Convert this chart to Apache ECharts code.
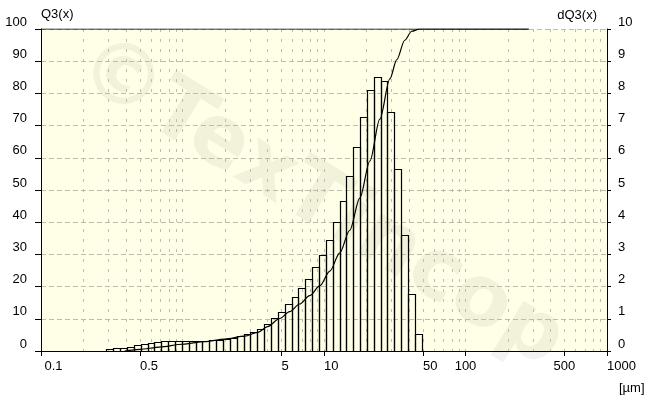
<!DOCTYPE html>
<html>
<head>
<meta charset="utf-8">
<script src="https://cdn.jsdelivr.net/npm/echarts@6.0.0/dist/echarts.min.js"></script>
<style>
html,body{margin:0;padding:0;background:#fff;}
#c{width:649px;height:401px;}
</style>
</head>
<body>
<div id="c"></div>
<script>
// ---- data ----
const binEdges = [0.290,0.324,0.363,0.406,0.453,0.507,0.567,0.634,0.708,0.792,0.885,0.990,1.11,1.24,1.38,1.55,1.73,1.93,2.16,2.42,2.70,3.02,3.38,3.78,4.22,4.72,5.28,5.90,6.59,7.37,8.24,9.21,10.3,11.5,12.9,14.4,16.1,18.0,20.1,22.5,25.1,28.1,31.4,35.1,39.3,43.9,49.1];
const dQ3 = [0.05,0.08,0.09,0.11,0.18,0.22,0.26,0.28,0.30,0.31,0.32,0.31,0.31,0.31,0.32,0.33,0.34,0.36,0.41,0.47,0.53,0.60,0.68,0.84,1.03,1.22,1.45,1.69,1.97,2.24,2.62,2.98,3.45,4.00,4.66,5.43,6.33,7.27,8.10,8.51,8.38,7.42,5.65,3.60,1.77,0.53];
const q3Size  = [0.39,0.50,0.69,1.00,1.43,1.99,2.75,3.40,4.00,4.86,5.72,6.73,7.92,9.33,11.0,12.9,15.2,17.9,21.1,24.8,29.2,32.7,37.2,41.7,47.5,280];
const q3Value = [0,0.5,1.2,2.1,2.9,3.7,4.6,5.8,7.6,10.1,12.2,14.6,17.2,20.2,24.8,30.4,37.5,47.5,59,72,84.5,90.5,96.5,99.3,100,100];
const rangeLimits = [0.1, 280];
const xLabelValues = [0.1,0.5,5,10,50,100,500,1000];
const xCenteredLabels = ['100','500'];
const xGridValues = [0.2,0.3,0.4,0.5,0.6,0.7,0.8,0.9,1,2,3,4,5,6,7,8,9,10,20,30,40,50,60,70,80,90,100,200,300,400,500,600,700,800,900];
const leftTitle = 'Q3(x)';
const rightTitle = 'dQ3(x)';
const xUnit = '[µm]';
const watermark = '©TexTincop';

// ---- chart ----
const FONT = '"Liberation Sans Narrow","Arial Narrow","Liberation Sans",sans-serif';
const GRID_COLOR = '#bdbdab';
const histData = dQ3.map((v, i) => [binEdges[i], binEdges[i + 1], v]);
const q3Data = q3Size.map((x, i) => [x, q3Value[i]]);
const rangeData = rangeLimits.map(x => [x, 100]);

function fmt(v) { return String(+(+v).toPrecision(6)); }

const chart = echarts.init(document.getElementById('c'), null, {renderer: 'canvas'});
chart.setOption({
  animation: false,
  backgroundColor: '#ffffff',
  textStyle: {fontFamily: FONT, fontSize: 13, color: '#000'},
  grid: {left: 41, right: 42, top: 29, bottom: 50, show: true, backgroundColor: '#fffee6', borderWidth: 0, containLabel: false, outerBoundsMode: 'none', z: -5},
  graphic: [{
    type: 'text', z: -4, rotation: -0.55,
    x: 320, y: 204,
    style: {text: watermark, font: 'bold 84px "DejaVu Sans"', fill: 'rgba(40,40,20,0.06)', align: 'center', verticalAlign: 'middle'}
  }],
  xAxis: [
    {
      type: 'log', logBase: 10, min: 0.1, max: 1000, position: 'bottom', gridIndex: 0,
      axisLine: {show: true, lineStyle: {color: '#000', width: 1}},
      axisTick: {show: true, customValues: xLabelValues, length: 5, lineStyle: {color: '#000'}},
      axisLabel: {
        customValues: xLabelValues, margin: 9, fontSize: 13, color: '#000', fontFamily: FONT, align: 'center', hideOverlap: false,
        formatter: function (v) {
          const s = fmt(v);
          if (xCenteredLabels.indexOf(s) >= 0) return s;
          if (s === '0.1') return '{h1|' + s + '}' + s;
          return '{h|' + s + '}' + s;
        },
        rich: {
          h: {color: 'rgba(0,0,0,0)', fontSize: 13, fontFamily: FONT},
          h1: {color: 'rgba(0,0,0,0)', fontSize: 13, fontFamily: FONT, padding: [0, 0, 0, 7]}
        }
      },
      splitLine: {show: false},
      name: xUnit, nameLocation: 'end', nameGap: 12,
      nameTextStyle: {align: 'left', verticalAlign: 'top', padding: [31, 0, 0, 0], fontSize: 13, color: '#000', fontFamily: FONT}
    },
    {
      type: 'log', logBase: 10, min: 0.1, max: 1000, position: 'top', gridIndex: 0,
      axisLine: {show: false},
      axisTick: {show: false, customValues: xGridValues},
      axisLabel: {show: false, customValues: xGridValues},
      splitLine: {show: true, lineStyle: {color: GRID_COLOR, width: 1, type: [3, 7]}}
    }
  ],
  yAxis: [
    {
      type: 'value', min: 0, max: 100, interval: 10, position: 'left',
      axisLine: {show: true, lineStyle: {color: '#000', width: 1}},
      axisTick: {show: true, length: 6, lineStyle: {color: '#000'}},
      axisLabel: {color: '#000', fontSize: 13, fontFamily: FONT, margin: 14, verticalAlign: 'bottom', lineHeight: 14},
      splitLine: {show: true, lineStyle: {color: GRID_COLOR, width: 1, type: [5, 3]}},
      name: leftTitle, nameLocation: 'end', nameGap: 15,
      nameTextStyle: {align: 'left', verticalAlign: 'middle', fontSize: 13, color: '#000', fontFamily: FONT}
    },
    {
      type: 'value', min: 0, max: 10, interval: 1, position: 'right',
      axisLine: {show: true, lineStyle: {color: '#000', width: 1}},
      axisTick: {show: true, length: 4, lineStyle: {color: '#000'}},
      axisLabel: {color: '#000', fontSize: 13, fontFamily: FONT, margin: 11, verticalAlign: 'bottom', lineHeight: 14},
      splitLine: {show: false},
      name: rightTitle, nameLocation: 'end', nameGap: 14,
      nameTextStyle: {align: 'right', verticalAlign: 'middle', padding: [0, 10, 0, 0], fontSize: 13, color: '#000', fontFamily: FONT}
    }
  ],
  series: [
    {
      type: 'custom', name: 'dQ3', xAxisIndex: 0, yAxisIndex: 1, data: histData,
      encode: {x: [0, 1], y: 2},
      renderItem: function (params, api) {
        const lo = api.value(0), hi = api.value(1), v = api.value(2);
        const p1 = api.coord([lo, v]);
        const p0 = api.coord([hi, 0]);
        return {
          type: 'rect',
          shape: {x: Math.round(p1[0]) + 0.5, y: Math.round(p1[1]) + 0.5, width: Math.round(p0[0]) - Math.round(p1[0]), height: Math.round(p0[1]) - Math.round(p1[1])},
          style: {fill: 'none', stroke: '#000', lineWidth: 1.2}
        };
      },
      z: 3
    },
    {
      type: 'line', name: 'range', xAxisIndex: 0, yAxisIndex: 0, data: rangeData,
      showSymbol: false, lineStyle: {color: '#000', width: 1}, z: 4, silent: true
    },
    {
      type: 'line', name: 'Q3', xAxisIndex: 0, yAxisIndex: 0, data: q3Data,
      smooth: 0.3, smoothMonotone: 'x', showSymbol: false,
      lineStyle: {color: '#000', width: 1.2}, z: 5
    }
  ]
});
</script>
</body>
</html>
